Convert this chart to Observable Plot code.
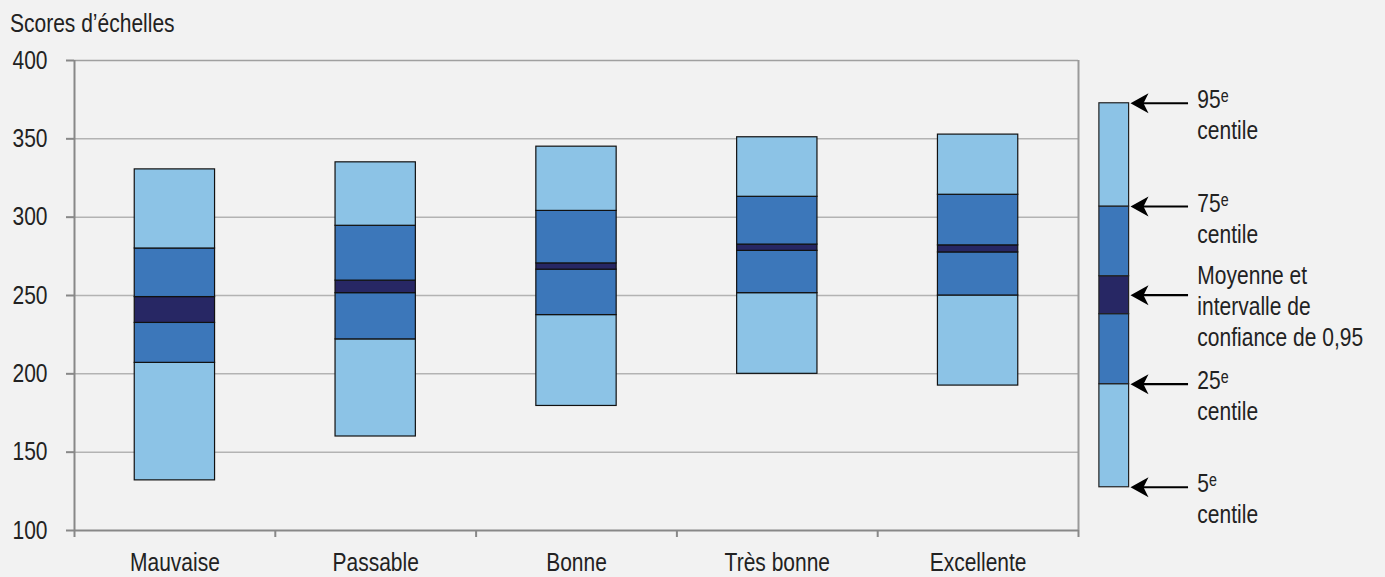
<!DOCTYPE html>
<html>
<head>
<meta charset="utf-8">
<script src="https://cdn.jsdelivr.net/npm/d3@7"></script>
<script src="https://cdn.jsdelivr.net/npm/@observablehq/plot@0.6"></script>
<style>
  html, body { margin: 0; padding: 0; background: #f2f2f2; }
  #wrap { position: relative; width: 1385px; height: 577px; font-family: "Liberation Sans", Arial, sans-serif; color: #222; }
  #title { position: absolute; left: 10px; top: 11px; font-size: 25px; line-height: 25px; white-space: nowrap; transform: scaleX(0.84); transform-origin: 0 0; }
  #chart svg { display: block; }
</style>
</head>
<body>
<div id="wrap">
  <div id="chart"></div>
  <div id="title">Scores d’échelles</div>
</div>
<script>
// ---- data ----
const categories = ["Mauvaise", "Passable", "Bonne", "Très bonne", "Excellente"];
const p5     = [132,   160,   179.5, 200,   192.5];
const p25    = [207,   222,   237.5, 251.5, 250];
const ciLow  = [232.5, 251.5, 266.5, 278.5, 277.5];
const ciHigh = [249,   259.5, 270.5, 282.5, 282];
const p75    = [280,   294.5, 304,   313,   314.3];
const p95    = [330.5, 335,   345,   351,   352.7];
const yTicks = [100, 150, 200, 250, 300, 350, 400];

// legend sample box (score units)
const legendLevels = [127.6, 193.4, 238.1, 262.3, 306.8, 372.7];
const legendCentiles = ["5ᵉ\ncentile", "25ᵉ\ncentile", "75ᵉ\ncentile", "95ᵉ\ncentile"];
const legendMeanLabel = "Moyenne et\nintervalle de\nconfiance de 0,95";

// ---- styles ----
const light = "#8cc3e6", mid = "#3c77ba", dark = "#272764";
const bandColors = [light, mid, dark, mid, light];

// ---- derived tables ----
const segments = [];
categories.forEach((c, i) => {
  const cuts = [p5[i], p25[i], ciLow[i], ciHigh[i], p75[i], p95[i]];
  for (let k = 0; k < 5; k++) segments.push({i, lo: cuts[k], hi: cuts[k + 1], fill: bandColors[k]});
});
const legendSegs = [];
for (let k = 0; k < 5; k++) legendSegs.push({lo: legendLevels[k], hi: legendLevels[k + 1], fill: bandColors[k]});
const centileArrows = [
  {v: legendLevels[0], label: legendCentiles[0]},
  {v: legendLevels[1], label: legendCentiles[1]},
  {v: legendLevels[4], label: legendCentiles[2]},
  {v: legendLevels[5], label: legendCentiles[3]}
];
const meanArrow = [{v: (legendLevels[2] + legendLevels[3]) / 2, label: legendMeanLabel}];
const allArrows = centileArrows.concat(meanArrow);

// legend x placement (in x-scale units, beyond the category range)
const LX1 = 5.104, LX2 = 5.252, TIP = 5.259, TAIL = 5.548, SHAFT = 5.30, TEXTX = 5.592;

const stealth = {
  draw(ctx) {
    ctx.moveTo(0, 0);
    ctx.lineTo(18, -10);
    ctx.lineTo(13, 0);
    ctx.lineTo(18, 10);
    ctx.closePath();
  }
};

const font = "'Liberation Sans', Arial, sans-serif";

const chart = Plot.plot({
  width: 1385,
  height: 577,
  marginLeft: 74,
  marginRight: 307,
  marginTop: 60,
  marginBottom: 47,
  style: {background: "transparent", fontFamily: font, fontSize: "25px", color: "#222"},
  x: {type: "linear", domain: [0, 5], axis: null},
  y: {domain: [100, 400], axis: null},
  color: {type: "identity"},
  marks: [
    // grid
    Plot.ruleY(yTicks.filter(d => d > 100 && d < 400), {x1: 0, x2: 5, stroke: "#b3b3b3", strokeWidth: 1.5}),
    Plot.ruleY([400], {x1: 0, x2: 5, stroke: "#a0a0a0", strokeWidth: 1.5}),
    Plot.ruleX([5], {y1: 100, y2: 400, stroke: "#9a9a9a", strokeWidth: 2}),
    // axes lines
    Plot.ruleX([0], {y1: 100, y2: 400, stroke: "#888", strokeWidth: 2}),
    Plot.ruleY([100], {x1: 0, x2: 5, stroke: "#888", strokeWidth: 2}),
    Plot.axisY({ticks: yTicks, tickSize: 8, tickPadding: 19, stroke: "#888", strokeWidth: 2, fill: "#222", fontSize: 25, label: null, tickFormat: d => String(d)}),
    Plot.axisX({ticks: d3.range(6), tickSize: 7, stroke: "#888", strokeWidth: 2, tickFormat: () => "", label: null}),
    Plot.axisX({ticks: categories.map((c, i) => i + 0.5), tickSize: 0, tickPadding: 23, fill: "#222", fontSize: 25, label: null, tickFormat: d => categories[Math.floor(d)]}),
    // boxes
    Plot.rect(segments, {x1: d => d.i + 0.3, x2: d => d.i + 0.7, y1: "lo", y2: "hi", fill: "fill", stroke: "#111", strokeWidth: 1.2}),
    // legend
    Plot.rect(legendSegs, {x1: LX1, x2: LX2, y1: "lo", y2: "hi", fill: "fill", stroke: "#222", strokeWidth: 1.2}),
    Plot.ruleY(allArrows, {y: "v", x1: SHAFT, x2: TAIL, stroke: "#000", strokeWidth: 2.2}),
    Plot.dot(allArrows, {x: TIP, y: "v", symbol: stealth, r: 5, fill: "#000"}),
    Plot.text(centileArrows, {x: TEXTX, y: "v", text: "label", textAnchor: "start", lineAnchor: "top", lineHeight: 1.24, dy: -17, fontSize: 25, fill: "#222"}),
    Plot.text(meanArrow, {x: TEXTX, y: "v", text: "label", textAnchor: "start", lineAnchor: "middle", lineHeight: 1.24, dy: 10, fontSize: 25, fill: "#222"})
  ]
});

// condense all text horizontally around its own anchor (Arial Narrow look)
chart.querySelectorAll("text").forEach(t => {
  let tr = t.getAttribute("transform") || "";
  const x = t.getAttribute("x");
  if (x != null && isFinite(+x) && +x !== 0) {
    tr += ` translate(${+x},0)`;
    t.setAttribute("x", 0);
  }
  t.setAttribute("transform", tr + " scale(0.84,1)");
});

document.getElementById("chart").appendChild(chart);
</script>
</body>
</html>
